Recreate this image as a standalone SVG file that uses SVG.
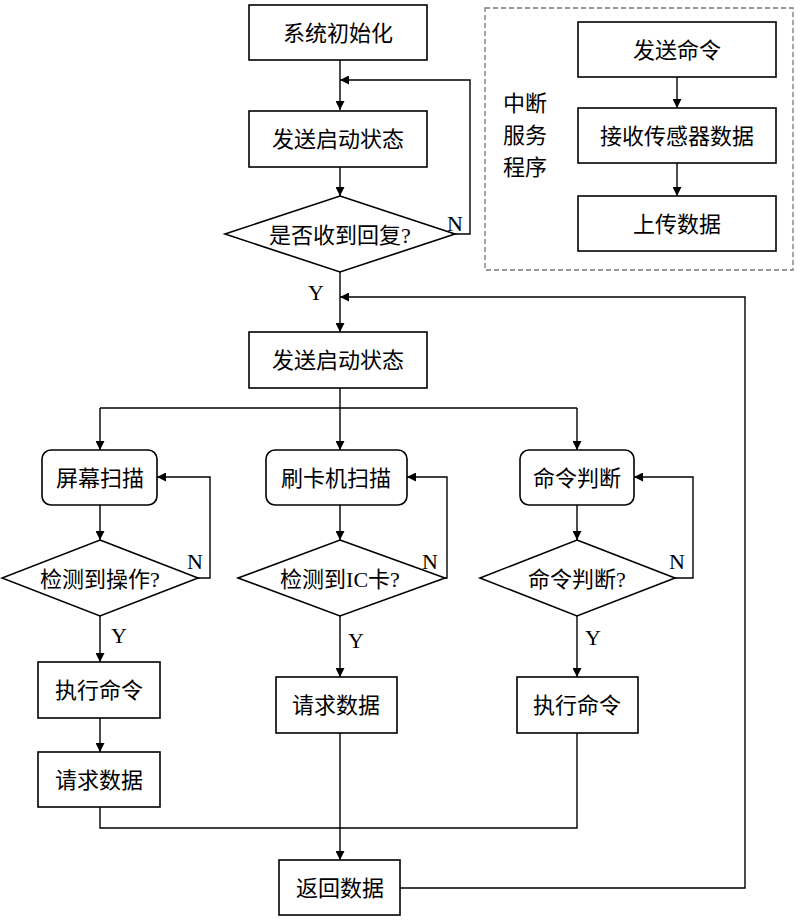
<svg xmlns="http://www.w3.org/2000/svg" width="800" height="920" viewBox="0 0 800 920">
<style>
.b{fill:#fff;stroke:#000;stroke-width:1.6}
.l{fill:none;stroke:#000;stroke-width:1.4}
text{font-family:"Liberation Serif","Noto Sans CJK SC",serif;font-size:22px;fill:#000}
.c{text-anchor:middle;dominant-baseline:central}
</style>
<defs><marker id="a" viewBox="0 0 10 10" refX="10" refY="5" markerWidth="9" markerHeight="9" markerUnits="userSpaceOnUse" orient="auto"><path d="M0,0L10,5L0,10z"/></marker></defs>
<g id="connectors">
<path class="l" d="M340,60V110" marker-end="url(#a)"/>
<path class="l" d="M455,234H470V80H340" marker-end="url(#a)"/>
<path class="l" d="M340,167V196" marker-end="url(#a)"/>
<path class="l" d="M340,272V332" marker-end="url(#a)"/>
<path class="l" d="M340,388V408"/>
<path class="l" d="M100,408H577"/>
<path class="l" d="M100,408V450" marker-end="url(#a)"/>
<path class="l" d="M340,408V450" marker-end="url(#a)"/>
<path class="l" d="M577,408V450" marker-end="url(#a)"/>
<path class="l" d="M100,505V540" marker-end="url(#a)"/>
<path class="l" d="M340,505V540" marker-end="url(#a)"/>
<path class="l" d="M577,505V540" marker-end="url(#a)"/>
<path class="l" d="M198,578H210V477H157" marker-end="url(#a)"/>
<path class="l" d="M445,578H447V477H407" marker-end="url(#a)"/>
<path class="l" d="M675,578H693V477H634" marker-end="url(#a)"/>
<path class="l" d="M100,616V662" marker-end="url(#a)"/>
<path class="l" d="M340,616V677" marker-end="url(#a)"/>
<path class="l" d="M577,616V677" marker-end="url(#a)"/>
<path class="l" d="M100,718V752" marker-end="url(#a)"/>
<path class="l" d="M100,807V828H577V733"/>
<path class="l" d="M340,733V860" marker-end="url(#a)"/>
<path class="l" d="M400,888H745V297H340" marker-end="url(#a)"/>
<path class="l" d="M677,77V108" marker-end="url(#a)"/>
<path class="l" d="M677,163V196" marker-end="url(#a)"/>
<text x="455" y="223" class="c">N</text>
<text x="316" y="292" class="c">Y</text>
<text x="195" y="561" class="c">N</text>
<text x="430" y="561" class="c">N</text>
<text x="677" y="561" class="c">N</text>
<text x="119" y="635" class="c">Y</text>
<text x="356" y="640" class="c">Y</text>
<text x="593" y="637" class="c">Y</text>
</g>
<g id="init"><rect class="b" x="249" y="5" width="178" height="55"/><text x="338" y="33" class="c">系统初始化</text></g>
<g id="send1"><rect class="b" x="249" y="111" width="178" height="56"/><text x="338" y="139" class="c">发送启动状态</text></g>
<g id="reply"><polygon class="b" points="340,196 455,234 340,272 225,234"/><text x="340" y="235" class="c">是否收到回复?</text></g>
<g id="send2"><rect class="b" x="249" y="332" width="178" height="56"/><text x="338" y="360" class="c">发送启动状态</text></g>
<g id="screen"><rect class="b" x="42" y="450" width="115" height="55" rx="9"/><text x="100" y="478" class="c">屏幕扫描</text></g>
<g id="card"><rect class="b" x="266" y="450" width="141" height="55" rx="9"/><text x="336" y="478" class="c">刷卡机扫描</text></g>
<g id="cmd"><rect class="b" x="520" y="450" width="114" height="55" rx="9"/><text x="577" y="478" class="c">命令判断</text></g>
<g id="d1"><polygon class="b" points="100,540 198,578 100,616 2,578"/><text x="100" y="579" class="c">检测到操作?</text></g>
<g id="d2"><polygon class="b" points="340,540 445,578 340,616 238,578"/><text x="340" y="579" class="c">检测到IC卡?</text></g>
<g id="d3"><polygon class="b" points="577,540 675,578 577,616 480,578"/><text x="577" y="579" class="c">命令判断?</text></g>
<g id="exec1"><rect class="b" x="38" y="662" width="122" height="56"/><text x="99" y="690" class="c">执行命令</text></g>
<g id="req1"><rect class="b" x="38" y="752" width="122" height="55"/><text x="99" y="780" class="c">请求数据</text></g>
<g id="req2"><rect class="b" x="276" y="677" width="121" height="56"/><text x="336" y="705" class="c">请求数据</text></g>
<g id="exec3"><rect class="b" x="517" y="677" width="121" height="56"/><text x="577" y="705" class="c">执行命令</text></g>
<g id="ret"><rect class="b" x="279" y="860" width="121" height="55"/><text x="340" y="888" class="c">返回数据</text></g>
<g id="isr">
<rect x="485" y="8" width="308" height="262" fill="none" stroke="#777" stroke-width="1.3" stroke-dasharray="5,3"/>
<text x="525" y="103" class="c">中断</text><text x="525" y="135" class="c">服务</text><text x="525" y="167" class="c">程序</text>
</g>
<g id="isr1"><rect class="b" x="578" y="22" width="198" height="55"/><text x="677" y="50" class="c">发送命令</text></g>
<g id="isr2"><rect class="b" x="578" y="108" width="198" height="55"/><text x="677" y="136" class="c">接收传感器数据</text></g>
<g id="isr3"><rect class="b" x="578" y="196" width="198" height="55"/><text x="677" y="224" class="c">上传数据</text></g>
</svg>
